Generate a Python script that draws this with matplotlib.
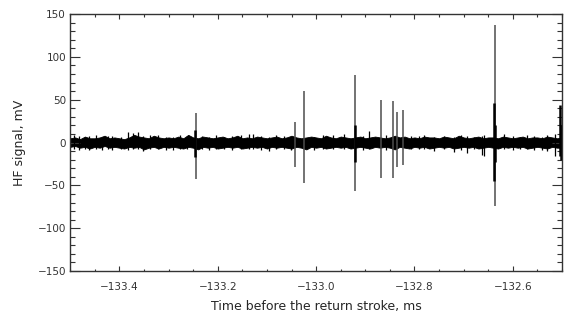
import numpy as np
import matplotlib
matplotlib.use("Agg")
import matplotlib.pyplot as plt
from matplotlib.ticker import MultipleLocator

# noise envelope of the HF record, read every 0.01 ms
band_t = np.round(np.arange(-133.50, -132.495, 0.01), 3)
band_up = [5, 6, 4, 7, 5, 5, 6, 8, 5, 6, 5, 4, 6, 9, 7, 6, 5, 8, 6, 5,
           6, 5, 7, 5, 9, 6, 5, 7, 6, 5, 6, 7, 5, 6, 8, 5, 6, 5, 7, 6,
           5, 6, 7, 5, 6, 8, 6, 5, 6, 7, 6, 5, 8, 6, 5, 7, 6, 5, 6, 7,
           5, 6, 7, 6, 5, 6, 8, 6, 7, 5, 6, 5, 7, 6, 6, 5, 7, 6, 5, 8,
           6, 5, 6, 7, 5, 6, 6, 5, 7, 6, 5, 6, 7, 5, 6, 6, 5, 7, 6, 5, 6]
band_lo = [-5, -4, -6, -5, -7, -5, -6, -4, -6, -5, -6, -7, -5, -6, -5, -8, -6, -5, -7, -5,
           -6, -5, -6, -7, -5, -6, -8, -5, -6, -5, -7, -6, -5, -6, -5, -7, -6, -5, -6, -5,
           -7, -5, -6, -5, -6, -7, -5, -6, -8, -5, -6, -5, -7, -6, -5, -6, -5, -7, -6, -5,
           -6, -7, -5, -6, -5, -6, -8, -5, -6, -7, -5, -6, -5, -7, -6, -5, -6, -5, -7, -6,
           -5, -6, -5, -7, -6, -5, -6, -7, -5, -6, -5, -6, -5, -7, -6, -5, -6, -7, -5, -6, -6]

# small noise excursions: time (ms), max, min (mV)
noise_t = [-133.492, -133.482, -133.470, -133.461, -133.447, -133.435, -133.424,
           -133.414, -133.396, -133.382, -133.373, -133.363, -133.351, -133.337,
           -133.322, -133.306, -133.290, -133.276, -133.262, -133.231, -133.218,
           -133.204, -133.187, -133.170, -133.152, -133.137, -133.129, -133.112,
           -133.096, -133.081, -133.066, -133.052, -133.004, -132.985, -132.965,
           -132.943, -132.905, -132.892, -132.858, -132.808, -132.790, -132.780,
           -132.761, -132.741, -132.720, -132.706, -132.694, -132.678, -132.663,
           -132.659, -132.617, -132.600, -132.586, -132.572, -132.556, -132.540,
           -132.530, -132.514]
noise_hi = [9, 8, 7, 8, 9, 7, 8, 8, 7, 12, 11, 12, 8, 9, 9, 7, 7, 9, 8, 8, 7,
            9, 7, 8, 9, 10, 10, 8, 7, 9, 8, 7, 7, 9, 9, 10, 8, 13, 9, 8, 8, 9,
            7, 8, 7, 9, 8, 7, 8, 9, 10, 8, 7, 9, 8, 7, 9, 10]
noise_lo = [-8, -9, -7, -9, -8, -9, -7, -9, -8, -9, -7, -8, -10, -7, -8, -9, -9,
            -7, -8, -8, -9, -7, -8, -9, -7, -8, -7, -9, -10, -8, -8, -9, -9, -8,
            -7, -8, -9, -8, -9, -7, -8, -7, -10, -8, -11, -9, -12, -8, -14, -16,
            -8, -9, -7, -8, -9, -9, -10, -16]

# impulsive pulses: time (ms), peak, trough (mV)
pulse_t = [-133.244, -133.043, -133.024, -132.920, -132.869, -132.843,
           -132.835, -132.824, -132.637]
pulse_hi = [35, 24, 60, 79, 50, 48, 36, 38, 137]
pulse_lo = [-43, -28, -47, -56, -41, -41, -29, -26, -74]

# dense bursts around the pulses
burst_t = [-133.246, -132.921, -132.638, -132.636, -132.505, -132.502]
burst_hi = [15, 21, 46, 21, 44, 20]
burst_lo = [-17, -23, -45, -23, -16, -20]

fig, ax = plt.subplots(figsize=(5.66, 3.2), dpi=100)
fig.subplots_adjust(left=0.124, right=0.993, top=0.956, bottom=0.153)

ax.fill_between(band_t, band_lo, band_up, color="black", lw=0.6)
ax.vlines(noise_t, noise_lo, noise_hi, color="black", lw=0.9)
ax.vlines(pulse_t, pulse_lo, pulse_hi, color="0.3", lw=1.1)
ax.vlines(burst_t, burst_lo, burst_hi, color="black", lw=1.8)

ax.set_xlim(-133.5, -132.5)
ax.set_ylim(-150, 150)
ax.xaxis.set_major_locator(MultipleLocator(0.2))
ax.xaxis.set_minor_locator(MultipleLocator(0.05))
ax.yaxis.set_major_locator(MultipleLocator(50))
ax.yaxis.set_minor_locator(MultipleLocator(10))

ax.tick_params(axis="both", which="both", direction="in", top=True, right=True,
               labelsize=7.5, colors="0.2", width=0.8)
ax.tick_params(axis="x", which="major", length=3.6, pad=8)
ax.tick_params(axis="x", which="minor", length=1.8)
ax.tick_params(axis="y", which="major", length=7, pad=3)
ax.tick_params(axis="y", which="minor", length=3.5)
for s in ax.spines.values():
    s.set_linewidth(1.0)
    s.set_color("0.2")

ax.set_xlabel("Time before the return stroke, ms", fontsize=9, color="0.15", labelpad=6)
ax.set_ylabel("HF signal, mV", fontsize=9, color="0.15", labelpad=8)

plt.savefig("out.png", dpi=100)
